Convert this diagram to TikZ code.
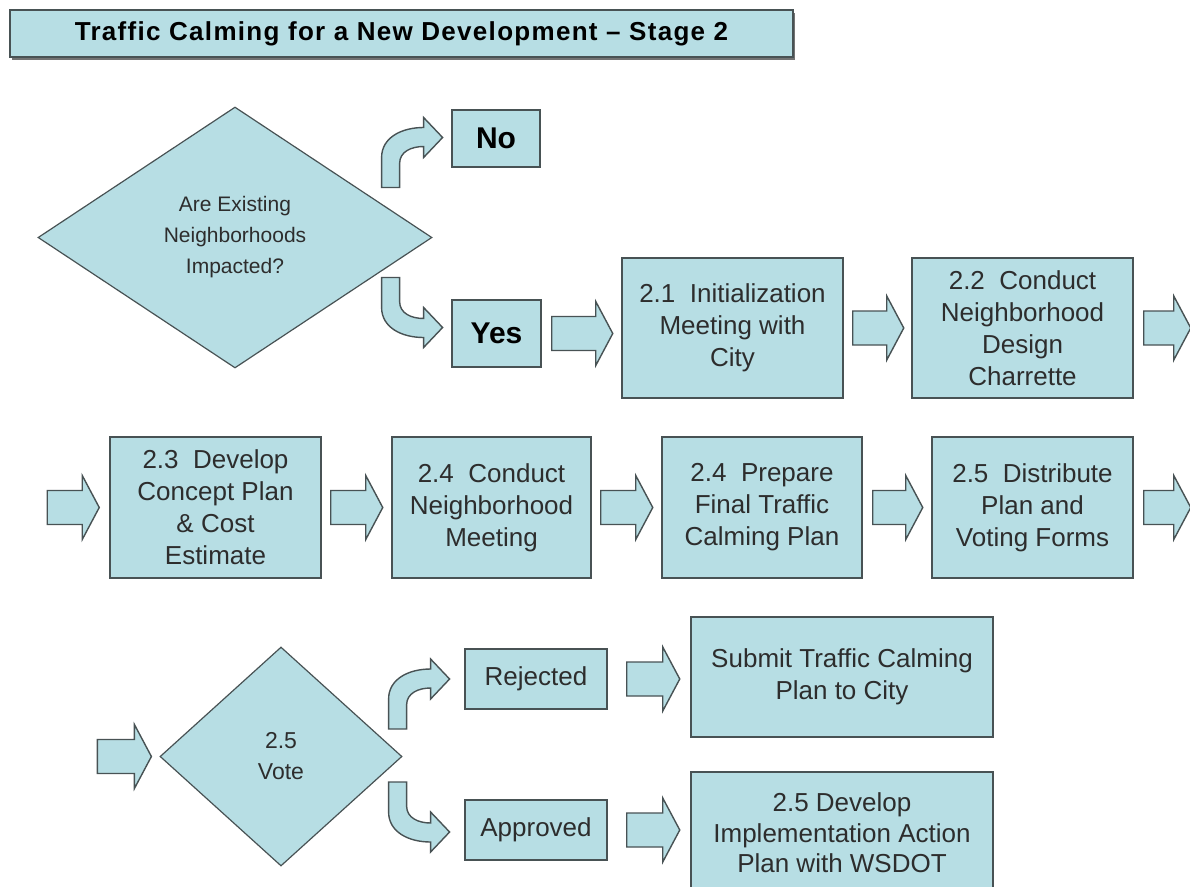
\documentclass[tikz,border=0pt]{standalone}
\usepackage{fontspec}
\setmainfont{Liberation Sans}
\usetikzlibrary{shapes.geometric,calc,shadows}
\definecolor{boxfill}{RGB}{183,222,228}
\definecolor{edge}{RGB}{72,82,84}
\definecolor{ink}{RGB}{45,45,45}
\tikzset{
  box/.style={draw=edge,fill=boxfill,line width=1.5pt,rectangle,inner sep=0pt,
    align=center,text=ink,font=\fontsize{26}{32}\selectfont},
  decision/.style={draw=edge,fill=boxfill,line width=1.2pt,diamond,aspect=1,
    inner sep=0pt,align=center,text=ink},
  arrowshape/.style={draw=edge,fill=boxfill,line width=1.4pt,line join=miter},
  % straight block arrow, #1 = length from tail to tip
  barrow/.pic={\draw[arrowshape] (0,-17) -- ({#1-17},-17) -- ({#1-17},-32) -- (#1,0)
      -- ({#1-17},32) -- ({#1-17},17) -- (0,17) -- cycle;},
  % bent block arrows: rise (or drop) from the shaft, then turn right
  bendup/.pic={\draw[arrowshape] (0,0) -- (0,-30) .. controls (0,-50) and (20,-60) .. (42,-60)
      -- (42,-70) -- (61,-50) -- (42,-30) -- (42,-41)
      .. controls (30,-41) and (18,-36) .. (18,-24) -- (18,0) -- cycle;},
  benddown/.pic={\draw[arrowshape] (0,0) -- (0,30) .. controls (0,50) and (20,60) .. (42,60)
      -- (42,70) -- (61,50) -- (42,30) -- (42,41)
      .. controls (30,41) and (18,36) .. (18,24) -- (18,0) -- cycle;}
}
\begin{document}
\begin{tikzpicture}[x=1pt,y=-1pt]
\useasboundingbox (0,0) rectangle (1190,886);
\clip (0,0) rectangle (1190,886);

% heading
\node[box,text=black,minimum width=783pt,minimum height=47pt,
  drop shadow={shadow xshift=2pt,shadow yshift=-3pt,fill=black!55,opacity=1},
  font=\bfseries\fontsize{26}{30}\selectfont\addfontfeatures{LetterSpace=5}] (title) at (401.5,33.5)
  {Traffic Calming for a New Development -- Stage 2};

% first decision
\node[decision,minimum width=394pt,minimum height=261pt,
  font=\fontsize{21}{31}\selectfont] (d1) at (235,237.5)
  {Are Existing\\Neighborhoods\\Impacted?};
\node[box,minimum width=88pt,minimum height=57pt,text=black,
  font=\bfseries\fontsize{30}{32}\selectfont] (no) at (496,138.5) {No};
\node[box,minimum width=89pt,minimum height=67pt,text=black,
  font=\bfseries\fontsize{30}{32}\selectfont] (yes) at (496.5,333.5) {Yes};
\pic at ($(d1.east)+(-51,-50)$) {bendup};
\pic at ($(d1.east)+(-51,40)$) {benddown};

% first row of steps
\node[box,minimum width=221pt,minimum height=140pt] (b21) at (732.5,328)
  {2.1\ \ Initialization\\Meeting with\\City};
\node[box,minimum width=221pt,minimum height=140pt] (b22) at (1022.5,328)
  {2.2\ \ Conduct\\Neighborhood\\Design\\Charrette};
\pic at ($(yes.east)+(10,0)$) {barrow=61};
\pic at ($(b21.east)+(9,0)$) {barrow=51};
\pic at ($(b22.east)+(10,0)$) {barrow=47};

% second row of steps
\node[box,minimum width=211pt,minimum height=141pt] (b23) at (215.5,507.5)
  {2.3\ \ Develop\\Concept Plan\\\& Cost\\Estimate};
\node[box,minimum width=199pt,minimum height=141pt] (b24) at (491.5,507.5)
  {2.4\ \ Conduct\\Neighborhood\\Meeting};
\node[box,minimum width=200pt,minimum height=141pt] (b24p) at (762,507.5)
  {2.4\ \ Prepare\\Final Traffic\\Calming Plan};
\node[box,minimum width=201pt,minimum height=141pt] (b25) at (1032.5,507.5)
  {2.5\ \ Distribute\\Plan and\\Voting Forms};
\pic at ($(b23.west)+(-62,0)$) {barrow=52};
\pic at ($(b23.east)+(9,0)$) {barrow=52};
\pic at ($(b24.east)+(9,0)$) {barrow=52};
\pic at ($(b24p.east)+(10,0)$) {barrow=50};
\pic at ($(b25.east)+(10,0)$) {barrow=47};

% vote and its outcomes
\node[decision,minimum width=242pt,minimum height=219pt,
  font=\fontsize{23}{31}\selectfont] (vote) at (281,756.5) {2.5\\Vote};
\node[box,minimum width=142pt,minimum height=60pt] (rej) at (536,679) {Rejected};
\node[box,minimum width=142pt,minimum height=60pt] (app) at (536,830) {Approved};
\node[box,minimum width=302pt,minimum height=120pt] (sub) at (842,677)
  {Submit Traffic Calming\\Plan to City};
\node[box,minimum width=302pt,minimum height=122pt,
  font=\fontsize{26}{30.5}\selectfont] (dev) at (842,833)
  {2.5 Develop\\Implementation Action\\Plan with WSDOT};
\pic at ($(vote.west)+(-62,0)$) {barrow=54};
\pic at ($(vote.east)+(-14,-27.5)$) {bendup};
\pic at ($(vote.east)+(-14,25.5)$) {benddown};
\pic at ($(rej.east)+(19,0)$) {barrow=53};
\pic at ($(app.east)+(19,0)$) {barrow=53};
\end{tikzpicture}
\end{document}
